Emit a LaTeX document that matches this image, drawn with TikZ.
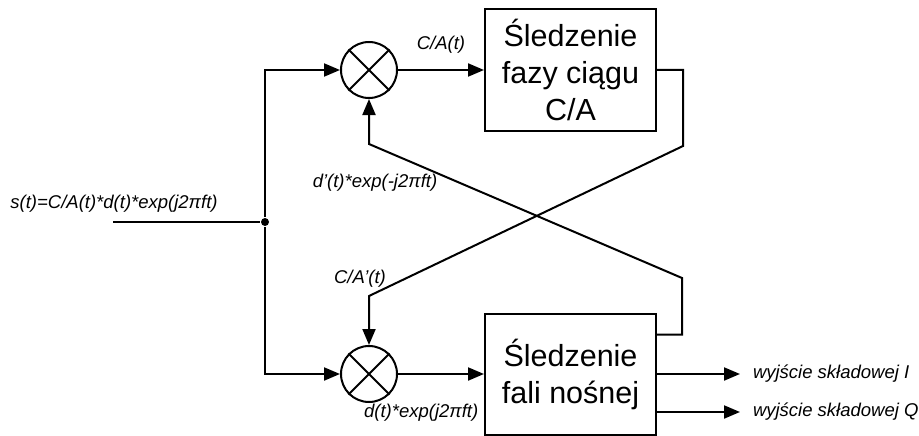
\documentclass[tikz,border=0pt]{standalone}
\usepackage{fontspec}
\setmainfont{Liberation Sans}
\usepackage{tikz}
\usetikzlibrary{arrows.meta,positioning}

\begin{document}
\begin{tikzpicture}[x=1pt,y=-1pt,>={Triangle[length=16pt,width=13pt]},line width=2pt,
 mix/.style={draw,circle,minimum size=56pt,inner sep=0pt},
 blk/.style={draw,minimum width=171pt,minimum height=121pt,align=center,font=\fontsize{30.5}{37}\selectfont},
 lbl/.style={font=\fontsize{18.5}{22}\selectfont\itshape,inner sep=2pt},
 dot/.style={circle,fill,inner sep=0pt,minimum size=8pt},
 ar/.style={->}]
 \useasboundingbox (0,0) rectangle (919,436);
 \node[mix] (mixA) at (369,70) {};
 \node[mix,below=246pt of mixA] (mixB) {};
 \node[blk,right=86pt of mixA] (boxA) {Śledzenie\\fazy ciągu\\C/A};
 \node[blk,right=86pt of mixB] (boxB) {Śledzenie\\fali nośnej};
 \foreach \m in {mixA,mixB}
  \draw (\m.north west)--(\m.south east) (\m.north east)--(\m.south west);
 \node[dot] (junc) at (265,222) {};
 \coordinate (sin) at (113,222);
 \node[lbl] (lblIn) at (114,204) {s(t)=C/A(t)*d(t)*exp(j2πft)};
 \draw (sin)--(junc);
 \draw[ar] (junc) |- (mixA);
 \draw[ar] (junc) |- (mixB);
 \draw[ar] (mixA)--node[lbl,above=14pt]{C/A(t)} (boxA);
 \draw[ar] (mixB)--node[lbl,below=27pt,pos=.27]{d(t)*exp(j2πft)} (boxB);
 \coordinate (bendA1) at (683,146);
 \coordinate (bendA2) at (372,296);
 \coordinate (bendB1) at (682,278);
 \coordinate (bendB2) at (371,144);
 \draw[ar] (boxA.east) -| (bendA1)--(mixB.north |- bendA2)--(mixB.north);
 \draw[ar] ([yshift=-22pt]boxB.north east) -| (bendB1)--(mixA.south |- bendB2)--(mixA.south);
 \node[lbl] (lblCAp) at (360,279) {C/A’(t)};
 \node[lbl] (lblDp) at (375,183) {d’(t)*exp(-j2πft)};
 \node[lbl,right=93pt of boxB.east] (outI) {wyjście składowej I};
 \node[lbl,anchor=west] (outQ) at ([yshift=-38pt]outI.west) {wyjście składowej Q};
 \draw[ar,shorten >=10pt] (boxB.east)--(outI.west);
 \draw[ar,shorten >=10pt] (boxB.east |- outQ.west)--(outQ.west);
\end{tikzpicture}
\end{document}
